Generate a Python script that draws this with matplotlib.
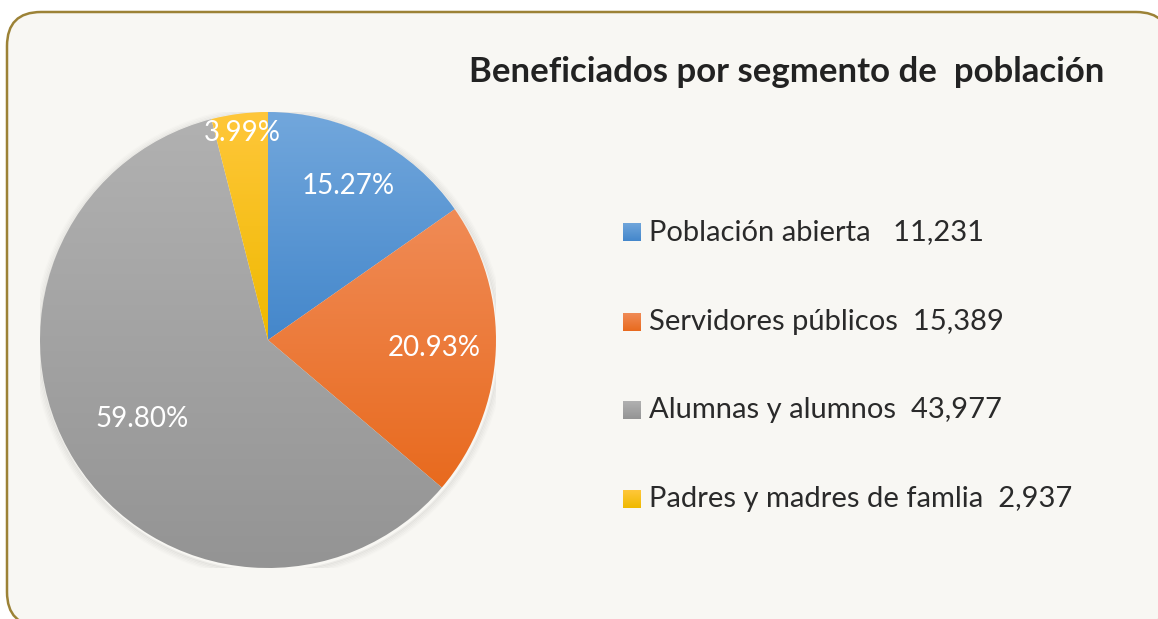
import matplotlib
matplotlib.use("Agg")
import matplotlib.pyplot as plt
import numpy as np
from matplotlib.patches import Wedge, FancyBboxPatch, Circle
from matplotlib.colors import LinearSegmentedColormap

categories = ["Población abierta", "Servidores públicos", "Alumnas y alumnos", "Padres y madres de famlia"]
values = [11231, 15389, 43977, 2937]
legend_gaps = ["   ", "  ", "  ", "  "]
top_colors = ["#72a7dc", "#f08b56", "#b1b1b1", "#ffc73a"]
bottom_colors = ["#4487cb", "#e86a1e", "#949494", "#efb900"]
label_dist = [0.76, 0.73, 0.65, 0.915]

W, H = 1158, 619
fig = plt.figure(figsize=(W / 100, H / 100), dpi=100)
fig.patch.set_facecolor("white")

# background axes in pixel coordinates (y downward)
bg = fig.add_axes([0, 0, 1, 1], zorder=-10)
bg.set_xlim(0, W)
bg.set_ylim(H, 0)
bg.axis("off")
frame = FancyBboxPatch((7, 12), 1163, 614,
                       boxstyle="round,pad=0,rounding_size=34",
                       facecolor="#f8f7f3", edgecolor="#9c8236", linewidth=1.8,
                       clip_on=False)
bg.add_patch(frame)

cx, cy, R = 268, 340, 228
ax = fig.add_axes([(cx - R) / W, (H - cy - R) / H, 2 * R / W, 2 * R / H])
ax.set_aspect("equal")
ax.axis("off")

# soft shadow
for i, a in enumerate(np.linspace(0.05, 0.01, 5)):
    ax.add_patch(Circle((0.005, -0.01), 1 + 0.006 * (i + 1), facecolor="none",
                        edgecolor="#000000", alpha=a, linewidth=1.5))

total = sum(values)
start = 90.0
for i, v in enumerate(values):
    ang = v / total * 360.0
    t1 = start - ang
    w = Wedge((0, 0), 1.0, t1, start, facecolor="none", edgecolor="none")
    ax.add_patch(w)
    th = np.radians(np.linspace(t1, start, 200))
    xs = np.concatenate([[0], np.cos(th)])
    ys = np.concatenate([[0], np.sin(th)])
    cmap = LinearSegmentedColormap.from_list("g%d" % i, [bottom_colors[i], top_colors[i]])
    grad = np.linspace(0, 1, 256).reshape(-1, 1)
    im = ax.imshow(grad, cmap=cmap, origin="lower", aspect="auto",
                   extent=[xs.min(), xs.max(), ys.min(), ys.max()],
                   interpolation="bilinear", zorder=2)
    im.set_clip_path(w)
    mid = np.radians(start - ang / 2)
    d = label_dist[i]
    ax.text(d * np.cos(mid), d * np.sin(mid), "%.2f%%" % (v / total * 100),
            color="white", fontsize=20, family="Lato", ha="center", va="center", zorder=5)
    start = t1

ax.set_xlim(-1.0, 1.0)
ax.set_ylim(-1.0, 1.0)

bg.text(787, 72, "Beneficiados por segmento de  población", fontsize=25,
        fontweight="bold", family="Lato", color="#222222", ha="center", va="center")

rows_y = [232, 322, 410, 499]
for i, c in enumerate(categories):
    y = rows_y[i]
    sax = fig.add_axes([623 / W, (H - y - 9) / H, 18 / W, 18 / H])
    cmap = LinearSegmentedColormap.from_list("s%d" % i, [bottom_colors[i], top_colors[i]])
    sax.imshow(np.linspace(0, 1, 64).reshape(-1, 1), cmap=cmap, origin="lower", aspect="auto")
    sax.axis("off")
    bg.text(649, y, "%s%s%s" % (c, legend_gaps[i], format(values[i], ",")),
            fontsize=21, family="Lato", color="#2a2a2a", ha="left", va="center")

fig.savefig("out.png", dpi=100, facecolor="white")
